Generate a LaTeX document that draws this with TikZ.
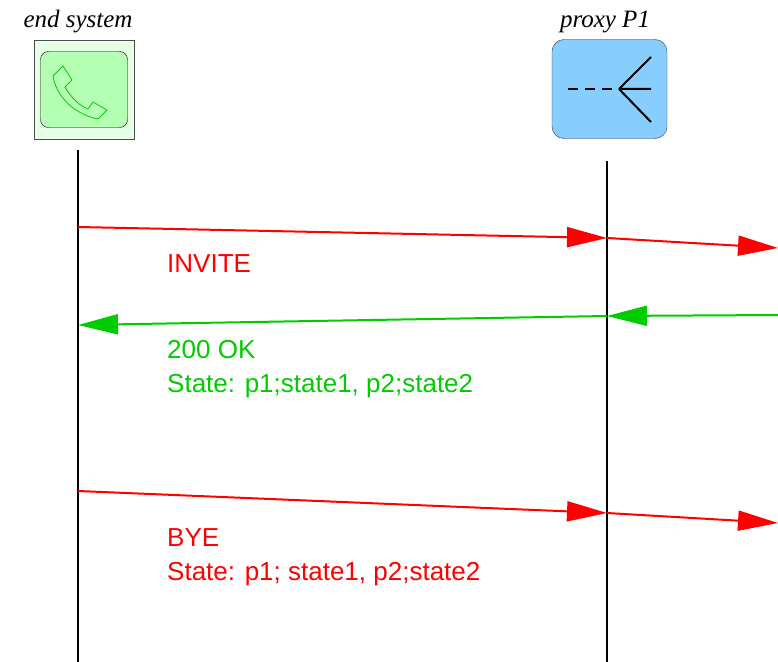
\documentclass[tikz,border=0pt]{standalone}
\usepackage{fontspec}
\setmainfont{Liberation Serif}
\setsansfont{Liberation Sans}
\usepackage{xcolor}
\usetikzlibrary{positioning, arrows.meta}
\definecolor{sipred}{RGB}{255,0,0}
\definecolor{sipgreen}{RGB}{0,204,0}
\definecolor{phoneback}{RGB}{230,255,230}
\definecolor{phonefront}{RGB}{181,255,181}
\definecolor{proxyblue}{RGB}{135,206,255}

\begin{document}
\begin{tikzpicture}[x=1bp, y=-1bp,
    msg/.style={line width=2bp, -{Triangle[length=40bp, width=20bp]}},
    msgtext/.style={font=\sffamily\fontsize{26bp}{34bp}\selectfont, anchor=base west, align=left, inner sep=0pt},
    who/.style={font=\itshape\fontsize{25bp}{30bp}\selectfont, anchor=base, inner sep=0pt},
    lifeline/.style={line width=2bp}]
    \useasboundingbox (0,0) rectangle (778,662);

    % end system
    \node [draw=black!70, fill=phoneback, minimum width=100bp, minimum height=99bp, inner sep=0pt] (es) at (84,89.5) {};
    \node [draw, fill=phonefront, rounded corners=8bp, minimum width=87bp, minimum height=76bp, inner sep=0pt] (phone) at (es.center) {};
    \draw[sipgreen, line width=0.8bp, line join=round] (53,76) -- (63,66) -- (72,80) -- (65,87)
        .. controls (72,99) and (80,106) .. (88,109) -- (93,102) -- (107,110) -- (98,119)
        .. controls (78,115) and (57,100) .. cycle;
    \node [who] (eslabel) at (78,28) {end system};

    % proxy
    \node [draw=black!80, fill=proxyblue, rounded corners=12bp, minimum width=115bp, minimum height=99bp, inner sep=0pt] (p1) at (609.5,89) {};
    \coordinate (fork) at (619,89);
    \draw[line width=2bp, dash pattern=on 10bp off 7bp] (568,89) -- (fork);
    \draw[line width=2bp] (fork) -- (651,57) (fork) -- (651,89) (fork) -- (651,122);
    \node [who] (p1label) at (605,28) {proxy P1};

    % lifelines
    \coordinate (estop) at (78,150);
    \coordinate (esbot) at (78,662);
    \coordinate (p1top) at (607,161);
    \coordinate (p1bot) at (607,662);
    \draw[lifeline] (estop) -- (esbot);
    \draw[lifeline] (p1top) -- (p1bot);

    % INVITE
    \coordinate (inv0) at (78,227);
    \coordinate (inv1) at (607,238);
    \coordinate (inv2) at (778,248);
    \draw[msg, sipred] (inv0) -- (inv1);
    \draw[msg, sipred] (inv1) -- (inv2);
    \node [msgtext, text=sipred] (invite) at (167,272) {INVITE};

    % 200 OK
    \coordinate (ok2) at (778,315);
    \coordinate (ok1) at (607,316);
    \coordinate (ok0) at (78,325);
    \draw[msg, sipgreen] (ok2) -- (ok1);
    \draw[msg, sipgreen] (ok1) -- (ok0);
    \node [msgtext, text=sipgreen] (ok) at (167,392) {200 OK\\State: p1;state1, p2;state2};

    % BYE
    \coordinate (bye0) at (78,491);
    \coordinate (bye1) at (607,513);
    \coordinate (bye2) at (778,523);
    \draw[msg, sipred] (bye0) -- (bye1);
    \draw[msg, sipred] (bye1) -- (bye2);
    \node [msgtext, text=sipred] (bye) at (167,580) {BYE\\State: p1; state1, p2;state2};
\end{tikzpicture}
\end{document}
